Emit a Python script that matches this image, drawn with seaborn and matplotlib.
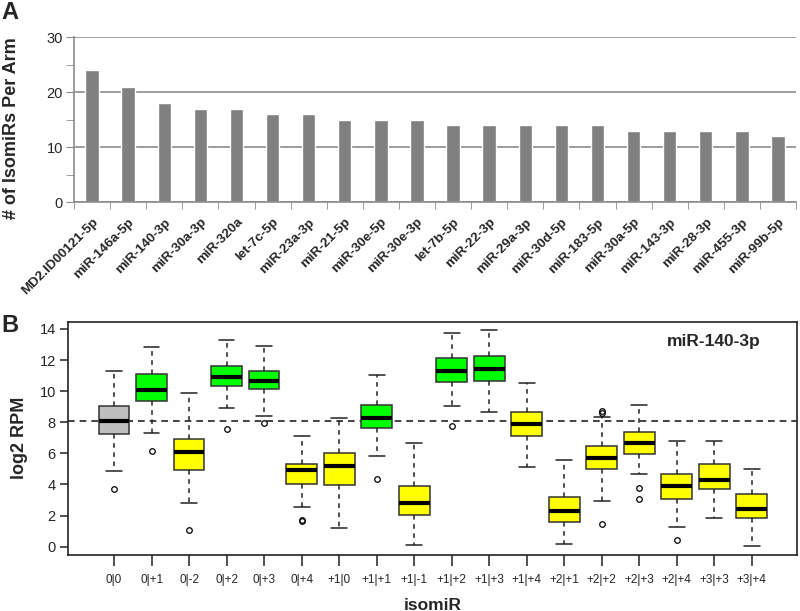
# Isomir counts per arm (A) and miR-140-3p isomiR expression (B)
import numpy as np
import matplotlib
matplotlib.use("Agg")
import matplotlib.pyplot as plt
import seaborn as sns

# -------- data: panel A --------
arm_names = ["MD2.ID00121-5p", "miR-146a-5p", "miR-140-3p", "miR-30a-3p", "miR-320a",
             "let-7c-5p", "miR-23a-3p", "miR-21-5p", "miR-30e-5p", "miR-30e-3p",
             "let-7b-5p", "miR-22-3p", "miR-29a-3p", "miR-30d-5p", "miR-183-5p",
             "miR-30a-5p", "miR-143-3p", "miR-28-3p", "miR-455-3p", "miR-99b-5p"]
isomir_counts = [24, 21, 18, 17, 17, 16, 16, 15, 15, 15,
                 14, 14, 14, 14, 14, 13, 13, 13, 13, 12]

# -------- data: panel B (box statistics) --------
isomir_labels = ["0|0", "0|+1", "0|-2", "0|+2", "0|+3", "0|+4", "+1|0", "+1|+1", "+1|-1",
                 "+1|+2", "+1|+3", "+1|+4", "+2|+1", "+2|+2", "+2|+3", "+2|+4", "+3|+3", "+3|+4"]
whisker_lo = [4.87, 7.29, 2.81, 8.94, 8.43, 2.57, 1.22, 5.85, 0.09,
              9.07, 8.64, 5.13, 0.17, 2.94, 4.65, 1.25, 1.85, 0.05]
q1 = [7.25, 9.37, 4.93, 10.31, 10.12, 4.05, 3.97, 7.65, 2.04,
      10.59, 10.68, 7.12, 1.57, 5.02, 5.96, 3.05, 3.73, 1.85]
medians = [8.10, 10.06, 6.09, 10.93, 10.66, 4.93, 5.19, 8.28, 2.81,
           11.30, 11.45, 7.87, 2.28, 5.73, 6.65, 3.92, 4.29, 2.44]
q3 = [9.05, 11.13, 6.95, 11.60, 11.30, 5.34, 6.00, 9.11, 3.90,
      12.13, 12.26, 8.68, 3.22, 6.46, 7.40, 4.69, 5.34, 3.39]
whisker_hi = [11.32, 12.82, 9.86, 13.31, 12.90, 7.10, 8.30, 11.02, 6.65,
              13.74, 13.96, 10.51, 5.58, 8.36, 9.13, 6.78, 6.78, 5.00]
outliers = [[3.71], [6.13], [1.07], [7.57], [7.95], [1.72, 1.65], [], [4.37], [],
            [7.74], [], [], [], [8.75, 8.62, 1.48], [3.77, 3.07], [0.45], [], []]
box_colors = ["#BEBEBE", "#00FF00", "#FFFF00", "#00FF00", "#00FF00", "#FFFF00",
              "#FFFF00", "#00FF00", "#FFFF00", "#00FF00", "#00FF00", "#FFFF00",
              "#FFFF00", "#FFFF00", "#FFFF00", "#FFFF00", "#FFFF00", "#FFFF00"]
reference_level = 8.08

# -------- style --------
sns.set_style("ticks")
plt.rcParams["font.family"] = ["Liberation Sans", "DejaVu Sans"]

fig = plt.figure(figsize=(8, 6.11), dpi=100)
axA = fig.add_axes([0.0925, 0.669, 0.9025, 0.270])
axB = fig.add_axes([0.0854, 0.0917, 0.911, 0.382])

# -------- panel A: bar chart --------
grid_col = "#8c8c8c"
sns.barplot(x=arm_names, y=isomir_counts, color="#808080", width=0.37,
            saturation=1, ax=axA)
axA.set_xlim(-0.5, len(arm_names) - 0.5)
axA.set_ylim(0, 30)
axA.set_yticks([0, 10, 20, 30])
axA.set_yticks([5, 15, 25], minor=True)
axA.yaxis.grid(True, color=grid_col, lw=1.2)
axA.set_axisbelow(True)
for s in ["top", "right"]:
    axA.spines[s].set_visible(False)
for s in ["left", "bottom"]:
    axA.spines[s].set_color(grid_col)
    axA.spines[s].set_linewidth(1.2)
axA.tick_params(axis="y", which="both", length=6, color=grid_col, labelsize=10.5, pad=2)
axA.tick_params(axis="x", which="major", length=0, pad=10)
axA.set_xticks(np.arange(-0.5, len(arm_names), 1), minor=True)
axA.tick_params(axis="x", which="minor", length=5, color=grid_col)
for lab in axA.get_xticklabels():
    lab.set_rotation(45)
    lab.set_ha("right")
    lab.set_rotation_mode("anchor")
    lab.set_fontweight("bold")
    lab.set_fontsize(9.6)
axA.set_xlabel("")
axA.set_ylabel("# of IsomiRs Per Arm", fontsize=13, fontweight="bold")
axA.yaxis.set_label_coords(-0.075, 0.45)
fig.text(0.002, 0.98, "A", fontsize=17, fontweight="bold", va="center", ha="left")

# -------- panel B: boxplots --------
stats = []
for i, lab in enumerate(isomir_labels):
    stats.append(dict(label=lab, whislo=whisker_lo[i], q1=q1[i], med=medians[i],
                      q3=q3[i], whishi=whisker_hi[i], fliers=outliers[i]))
positions = np.arange(1, len(isomir_labels) + 1)
bp = axB.bxp(stats, positions=positions, widths=0.82, patch_artist=True,
             boxprops=dict(edgecolor="#333333", linewidth=1.1),
             medianprops=dict(color="black", linewidth=3),
             whiskerprops=dict(color="#222222", linewidth=1.1, linestyle=(0, (3, 3))),
             capprops=dict(color="#222222", linewidth=1.1),
             flierprops=dict(marker="o", markerfacecolor="none", markeredgecolor="black",
                             markersize=4, markeredgewidth=0.9))
for patch, col in zip(bp["boxes"], box_colors):
    patch.set_facecolor(col)
for cap in bp["caps"]:
    c = cap.get_xdata().mean()
    cap.set_xdata([c - 0.21, c + 0.21])

axB.axhline(reference_level, color="#222222", lw=1.2, ls=(0, (4, 3)), zorder=0.5)
axB.set_xlim(-0.22, 19.21)
axB.set_ylim(-0.53, 14.47)
axB.set_yticks(np.arange(0, 15, 2))
axB.set_xticks(positions)
axB.set_xticklabels(isomir_labels)
axB.tick_params(axis="x", length=8, width=1.1, labelsize=8.5, pad=6, color="#222222")
axB.tick_params(axis="y", length=6, width=1.1, labelsize=10.5, pad=3, color="#222222")
for s in axB.spines.values():
    s.set_color("#222222")
    s.set_linewidth(1.2)
axB.set_xlabel("isomiR", fontsize=12.5, fontweight="bold", labelpad=8)
axB.set_ylabel("log2 RPM", fontsize=13, fontweight="bold", labelpad=8)
axB.text(0.885, 0.914, "miR-140-3p", transform=axB.transAxes, ha="center", va="center",
         fontsize=12.5, fontweight="bold")
fig.text(0.002, 0.468, "B", fontsize=17, fontweight="bold", va="center", ha="left")

fig.savefig("out.png", dpi=100)
